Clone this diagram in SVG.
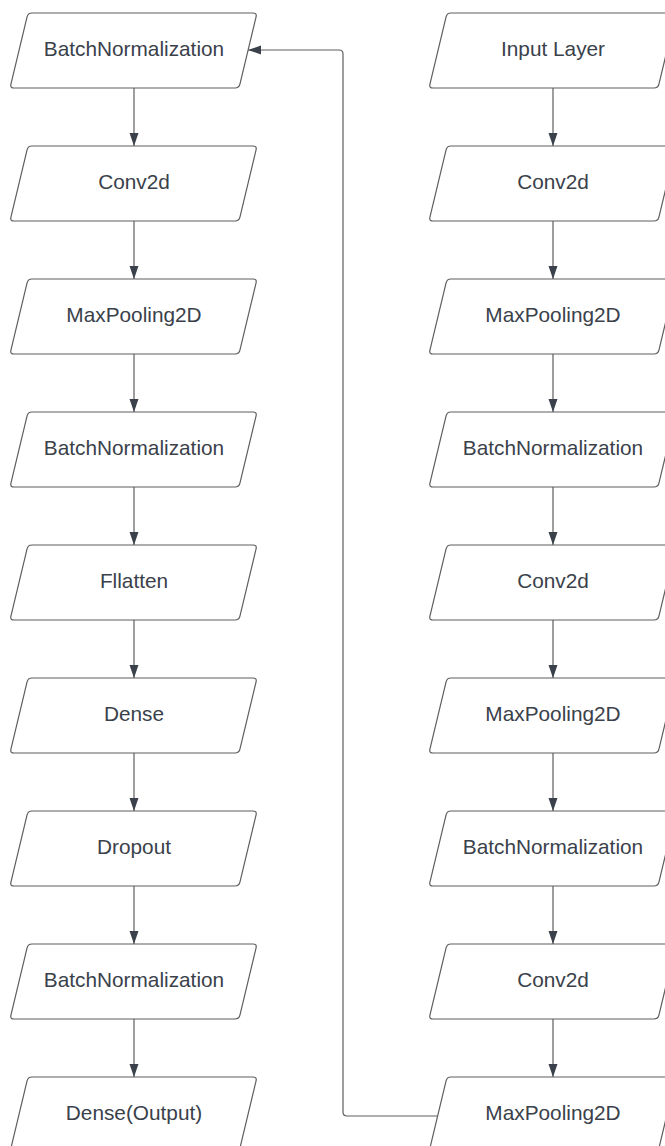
<svg xmlns="http://www.w3.org/2000/svg" xmlns:xlink="http://www.w3.org/1999/xlink" width="665" height="1146" viewBox="0 0 665 1146">
<style>
.shape{fill:#ffffff;stroke:#5e5e5e;stroke-width:1.2}
.lbl{font-family:"Liberation Sans",Arial,sans-serif;font-size:20.8px;fill:#3a414a;text-anchor:middle}
.conn{fill:none;stroke:#5e5e5e;stroke-width:1.2}
</style>
<defs>
<path id="para" d="M22,0 H243 Q247,0 246.07,3.89 L229.93,71.11 Q229,75 225,75 H4 Q0,75 0.93,71.11 L17.07,3.89 Q18,0 22,0 Z"/>
<marker id="ah" markerUnits="userSpaceOnUse" viewBox="0 0 13 10" markerWidth="13" markerHeight="10" refX="13" refY="5" orient="auto">
<path d="M0,0.5 L13,5 L0,9.5 Z" fill="#3a414a"/>
</marker>
</defs>
<rect width="665" height="1146" fill="#ffffff"/>
<g id="connectors">
<line class="conn" x1="134" y1="88" x2="134" y2="146" marker-end="url(#ah)"/>
<line class="conn" x1="134" y1="221" x2="134" y2="279" marker-end="url(#ah)"/>
<line class="conn" x1="134" y1="354" x2="134" y2="412" marker-end="url(#ah)"/>
<line class="conn" x1="134" y1="487" x2="134" y2="545" marker-end="url(#ah)"/>
<line class="conn" x1="134" y1="620" x2="134" y2="678" marker-end="url(#ah)"/>
<line class="conn" x1="134" y1="753" x2="134" y2="811" marker-end="url(#ah)"/>
<line class="conn" x1="134" y1="886" x2="134" y2="944" marker-end="url(#ah)"/>
<line class="conn" x1="134" y1="1019" x2="134" y2="1077" marker-end="url(#ah)"/>
<line class="conn" x1="553" y1="88" x2="553" y2="146" marker-end="url(#ah)"/>
<line class="conn" x1="553" y1="221" x2="553" y2="279" marker-end="url(#ah)"/>
<line class="conn" x1="553" y1="354" x2="553" y2="412" marker-end="url(#ah)"/>
<line class="conn" x1="553" y1="487" x2="553" y2="545" marker-end="url(#ah)"/>
<line class="conn" x1="553" y1="620" x2="553" y2="678" marker-end="url(#ah)"/>
<line class="conn" x1="553" y1="753" x2="553" y2="811" marker-end="url(#ah)"/>
<line class="conn" x1="553" y1="886" x2="553" y2="944" marker-end="url(#ah)"/>
<line class="conn" x1="553" y1="1019" x2="553" y2="1077" marker-end="url(#ah)"/>
<path class="conn" d="M438,1116 H347 Q343,1116 343,1112 V54 Q343,50 339,50 H248" marker-end="url(#ah)"/>
</g>
<g id="l1"><use href="#para" class="shape" x="10" y="13"/><text class="lbl" x="134" y="56">BatchNormalization</text></g>
<g id="l2"><use href="#para" class="shape" x="10" y="146"/><text class="lbl" x="134" y="189">Conv2d</text></g>
<g id="l3"><use href="#para" class="shape" x="10" y="279"/><text class="lbl" x="134" y="322">MaxPooling2D</text></g>
<g id="l4"><use href="#para" class="shape" x="10" y="412"/><text class="lbl" x="134" y="455">BatchNormalization</text></g>
<g id="l5"><use href="#para" class="shape" x="10" y="545"/><text class="lbl" x="134" y="588">Fllatten</text></g>
<g id="l6"><use href="#para" class="shape" x="10" y="678"/><text class="lbl" x="134" y="721">Dense</text></g>
<g id="l7"><use href="#para" class="shape" x="10" y="811"/><text class="lbl" x="134" y="854">Dropout</text></g>
<g id="l8"><use href="#para" class="shape" x="10" y="944"/><text class="lbl" x="134" y="987">BatchNormalization</text></g>
<g id="l9"><use href="#para" class="shape" x="10" y="1077"/><text class="lbl" x="134" y="1120">Dense(Output)</text></g>
<g id="r1"><use href="#para" class="shape" x="429" y="13"/><text class="lbl" x="553" y="56">Input Layer</text></g>
<g id="r2"><use href="#para" class="shape" x="429" y="146"/><text class="lbl" x="553" y="189">Conv2d</text></g>
<g id="r3"><use href="#para" class="shape" x="429" y="279"/><text class="lbl" x="553" y="322">MaxPooling2D</text></g>
<g id="r4"><use href="#para" class="shape" x="429" y="412"/><text class="lbl" x="553" y="455">BatchNormalization</text></g>
<g id="r5"><use href="#para" class="shape" x="429" y="545"/><text class="lbl" x="553" y="588">Conv2d</text></g>
<g id="r6"><use href="#para" class="shape" x="429" y="678"/><text class="lbl" x="553" y="721">MaxPooling2D</text></g>
<g id="r7"><use href="#para" class="shape" x="429" y="811"/><text class="lbl" x="553" y="854">BatchNormalization</text></g>
<g id="r8"><use href="#para" class="shape" x="429" y="944"/><text class="lbl" x="553" y="987">Conv2d</text></g>
<g id="r9"><use href="#para" class="shape" x="429" y="1077"/><text class="lbl" x="553" y="1120">MaxPooling2D</text></g>
</svg>
